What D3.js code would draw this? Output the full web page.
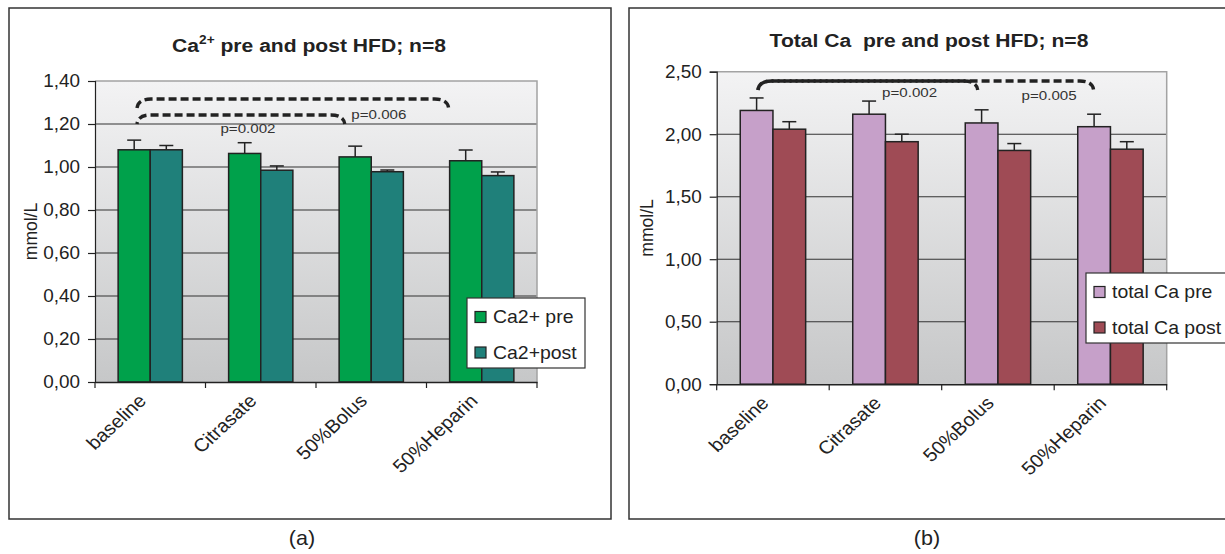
<!DOCTYPE html>
<html>
<head>
<meta charset="utf-8">
<script src="https://cdn.jsdelivr.net/npm/d3@7"></script>
<style>
  html,body{margin:0;padding:0;background:#fff;}
  svg{display:block;}
  text{font-family:"Liberation Sans", Arial, sans-serif; fill:#222; white-space:pre;}
</style>
</head>
<body>
<div id="chart"></div>
<script>
// ---------- DATA ----------
const categories = ["baseline", "Citrasate", "50%Bolus", "50%Heparin"];

// Panel (a): ionised Ca2+
const seriesA = ["Ca2+ pre", "Ca2+post"];
const ca2Pre      = [1.08, 1.063, 1.047, 1.029];
const ca2PreErr   = [0.045, 0.05, 0.05, 0.05];
const ca2Post     = [1.08, 0.985, 0.978, 0.96];
const ca2PostErr  = [0.02, 0.02, 0.008, 0.017];
const ticksA      = [0, 0.2, 0.4, 0.6, 0.8, 1.0, 1.2, 1.4];

// Panel (b): total Ca
const seriesB = ["total Ca pre", "total Ca post"];
const totPre      = [2.19, 2.16, 2.09, 2.06];
const totPreErr   = [0.10, 0.105, 0.105, 0.10];
const totPost     = [2.04, 1.94, 1.87, 1.88];
const totPostErr  = [0.06, 0.06, 0.055, 0.06];
const ticksB      = [0, 0.5, 1.0, 1.5, 2.0, 2.5];

// significance brackets (category from/to, bracket level in mmol/L, p text)
const bracketsA = [
  {from: "baseline", to: "50%Heparin", level: 1.316},
  {from: "baseline", to: "50%Bolus",   level: 1.242}
];
const pLabelsA = [
  {text: "p=0.002", cat: "Citrasate", value: 1.158},
  {text: "p=0.006", cat: "50%Bolus",  value: 1.223}
];
const bracketsB = [
  {from: "baseline", to: "50%Heparin", level: 2.426},
  {from: "baseline", to: "50%Bolus",   level: 2.426}
];
const pLabelsB = [
  {text: "p=0.002", cat: "Citrasate", value: 2.298},
  {text: "p=0.005", cat: "50%Bolus",  value: 2.274}
];

// ---------- LAYOUT ----------
const W = 1225, H = 554;
const FONT = '"Liberation Sans", Arial, sans-serif';
const SX = 1.08; // horizontal stretch of the reference's text

const panels = [
  {
    id: "a",
    border: {x: 9, y: 8, w: 602, h: 511},
    plot: {l: 95, r: 537, t: 81, b: 382},
    yMax: 1.4, ticks: ticksA, fmt: ".2f",
    title: {x: 309, y: 52, parts: [["Ca", 0], ["2+", 1], [" pre and post HFD; n=8", 0]]},
    ylabX: 37,
    colors: ["#00a14b", "#1f807a"],
    series: seriesA,
    values: [ca2Pre, ca2Post], errs: [ca2PreErr, ca2PostErr],
    legend: {x: 467, y: 298, w: 118, h: 70},
    brackets: bracketsA, bracketStart: 0.38, bracketEnd: {"50%Heparin": 0.2, "50%Bolus": 0.26},
    pLabels: pLabelsA, pFrac: {"Citrasate": 0.135, "50%Bolus": 0.32},
    caption: {x: 302, y: 545}
  },
  {
    id: "b",
    border: {x: 629, y: 8, w: 640, h: 511},
    plot: {l: 716.7, r: 1166.7, t: 71.7, b: 384.2},
    yMax: 2.5, ticks: ticksB, fmt: ".2f",
    title: {x: 929, y: 47, parts: [["Total Ca  pre and post HFD; n=8", 0]]},
    ylabX: 653,
    colors: ["#c6a0c9", "#9f4b55"],
    series: seriesB,
    values: [totPre, totPost], errs: [totPreErr, totPostErr],
    legend: {x: 1086, y: 273, w: 160, h: 70},
    brackets: bracketsB, bracketStart: 0.367, bracketEnd: {"50%Heparin": 0.35, "50%Bolus": 0.32},
    pLabels: pLabelsB, pFrac: {"Citrasate": 0.47, "50%Bolus": 0.71},
    caption: {x: 927, y: 545}
  }
];

const svg = d3.select("#chart").append("svg")
  .attr("width", W).attr("height", H)
  .attr("viewBox", `0 0 ${W} ${H}`);
svg.append("rect").attr("width", W).attr("height", H).attr("fill", "#fff");

const defs = svg.append("defs");
const grad = defs.append("linearGradient").attr("id", "plotbg")
  .attr("x1", 0).attr("y1", 0).attr("x2", 0).attr("y2", 1);
grad.append("stop").attr("offset", "0%").attr("stop-color", "#f3f3f4");
grad.append("stop").attr("offset", "100%").attr("stop-color", "#c6c7c8");

function stretchedText(g, x, y, str, opts = {}) {
  const t = g.append("text")
    .attr("transform", `translate(${x},${y}) scale(${opts.sx || SX},1)` + (opts.rot ? ` rotate(${opts.rot})` : ""))
    .attr("font-size", opts.size || 17)
    .attr("text-anchor", opts.anchor || "start")
    .attr("font-weight", opts.weight || "normal")
    .style("font-family", FONT);
  if (opts.dy) t.attr("dy", opts.dy);
  if (opts.fill) t.style("fill", opts.fill);
  t.text(str);
  return t;
}

const commaFmt = f => v => d3.format(f)(v).replace(".", ",");

panels.forEach(p => {
  const g = svg.append("g").attr("class", "panel-" + p.id);
  const P = p.plot;

  // outer frame
  g.append("rect")
    .attr("x", p.border.x).attr("y", p.border.y)
    .attr("width", p.border.w).attr("height", p.border.h)
    .attr("fill", "none").attr("stroke", "#333").attr("stroke-width", 1.5);

  // scales
  const x0 = d3.scaleBand().domain(categories).range([P.l, P.r]).padding(0);
  const x1 = d3.scaleBand().domain([0, 1]).range([0, x0.bandwidth()])
    .paddingInner(0).paddingOuter(0.72);
  const y = d3.scaleLinear().domain([0, p.yMax]).range([P.b, P.t]);

  // plot background
  g.append("rect")
    .attr("x", P.l).attr("y", P.t)
    .attr("width", P.r - P.l).attr("height", P.b - P.t)
    .attr("fill", "url(#plotbg)");

  // gridlines
  g.append("g").selectAll("line")
    .data(p.ticks.filter(t => t > 0 && t < p.yMax))
    .join("line")
    .attr("x1", P.l).attr("x2", P.r)
    .attr("y1", d => y(d)).attr("y2", d => y(d))
    .attr("stroke", "#333").attr("stroke-width", 1.1);

  // top & right border of plot area
  g.append("path")
    .attr("d", `M${P.l},${y(p.yMax)}H${P.r}V${P.b}`)
    .attr("fill", "none").attr("stroke", "#a3a3a3").attr("stroke-width", 1.5);

  // bars
  const barData = [];
  categories.forEach((c, i) => {
    p.values.forEach((vals, s) => {
      barData.push({cat: c, s, v: vals[i], e: p.errs[s][i]});
    });
  });

  // error bars (upper part only)
  const eg = g.append("g").attr("stroke", "#222").attr("stroke-width", 1.5);
  barData.forEach(d => {
    const cx = x0(d.cat) + x1(d.s) + x1.bandwidth() / 2;
    eg.append("line").attr("x1", cx).attr("x2", cx)
      .attr("y1", y(d.v)).attr("y2", y(d.v + d.e));
    eg.append("line").attr("x1", cx - 7).attr("x2", cx + 7)
      .attr("y1", y(d.v + d.e)).attr("y2", y(d.v + d.e));
  });

  g.append("g").selectAll("rect")
    .data(barData)
    .join("rect")
    .attr("x", d => x0(d.cat) + x1(d.s))
    .attr("y", d => y(d.v))
    .attr("width", x1.bandwidth())
    .attr("height", d => y(0) - y(d.v))
    .attr("fill", d => p.colors[d.s])
    .attr("stroke", "#222").attr("stroke-width", 1.5);

  // y axis
  const yAxis = d3.axisLeft(y).tickValues(p.ticks).tickFormat(commaFmt(p.fmt))
    .tickSize(7).tickPadding(8);
  const yg = g.append("g").attr("transform", `translate(${P.l},0)`).call(yAxis);
  yg.select(".domain").attr("stroke", "#222").attr("stroke-width", 1.2);
  yg.selectAll(".tick line").attr("stroke", "#222").attr("stroke-width", 1.2);
  yg.selectAll(".tick text").remove();
  p.ticks.forEach(t => {
    stretchedText(g, P.l - 15, y(t), commaFmt(p.fmt)(t),
      {anchor: "end", size: 17.5, dy: "0.36em"});
  });

  // x axis
  const xAxis = d3.axisBottom(x0).tickSize(0).tickFormat("");
  const xg = g.append("g").attr("transform", `translate(0,${P.b})`).call(xAxis);
  xg.select(".domain").attr("stroke", "#222").attr("stroke-width", 1.5);
  xg.selectAll(".tick").remove();
  const bounds = categories.map(c => x0(c)).concat([P.r]);
  g.append("g").selectAll("line").data(bounds).join("line")
    .attr("x1", d => d).attr("x2", d => d)
    .attr("y1", P.b).attr("y2", P.b + 6)
    .attr("stroke", "#222").attr("stroke-width", 1.2);

  categories.forEach(c => {
    stretchedText(g, x0(c) + x0.bandwidth() / 2 - 3, P.b + 20, c,
      {anchor: "end", size: 18.5, rot: -45});
  });

  // y label
  stretchedText(g, p.ylabX, (P.t + P.b) / 2, "mmol/L",
    {anchor: "middle", size: 17.5, rot: -90, sx: 1});

  // title
  const tt = g.append("text")
    .attr("transform", `translate(${p.title.x},${p.title.y}) scale(1.14,1)`)
    .attr("text-anchor", "middle")
    .attr("font-size", 18.5).attr("font-weight", "bold")
    .attr("xml:space", "preserve")
    .style("font-family", FONT);
  let prevSup = 0;
  p.title.parts.forEach(([s, sup]) => {
    const ts = tt.append("tspan").text(s);
    if (sup) { ts.attr("font-size", 12).attr("dy", -8); }
    else if (prevSup) { ts.attr("dy", 8); }
    prevSup = sup;
  });

  // significance brackets
  p.brackets.forEach((b, bi) => {
    const xs = x0(b.from) + x0.bandwidth() * p.bracketStart;
    const xe = x0(b.to) + x0.bandwidth() * p.bracketEnd[b.to];
    const yl = y(b.level);
    const path = `M${xs},${yl + 9} Q${xs + 1},${yl} ${xs + 14},${yl} L${xe - 14},${yl} Q${xe - 1},${yl} ${xe},${yl + 9}`;
    g.append("path").attr("d", path)
      .attr("fill", "none").attr("stroke", "#222")
      .attr("stroke-width", 3.4).attr("stroke-dasharray", "8 4")
      .attr("stroke-dashoffset", bi * 6);
  });
  p.pLabels.forEach(l => {
    stretchedText(g, x0(l.cat) + x0.bandwidth() * p.pFrac[l.cat], y(l.value), l.text,
      {size: 13.5, sx: 1.12, fill: "#333"});
  });

  // legend
  const L = p.legend;
  const lg = g.append("g");
  lg.append("rect").attr("x", L.x).attr("y", L.y).attr("width", L.w).attr("height", L.h)
    .attr("fill", "#fff").attr("stroke", "#333").attr("stroke-width", 1.2);
  p.series.forEach((s, i) => {
    const cy = L.y + 19 + i * 35.5;
    lg.append("rect").attr("x", L.x + 8).attr("y", cy - 5.5)
      .attr("width", 11).attr("height", 11)
      .attr("fill", p.colors[i]).attr("stroke", "#222").attr("stroke-width", 1.2);
    stretchedText(lg, L.x + 26, cy, s, {size: 18, dy: "0.35em", sx: 1.08});
  });

  // caption (a)/(b)
  stretchedText(svg, p.caption.x, p.caption.y, `(${p.id})`,
    {anchor: "middle", size: 20.5, sx: 1.05});
});
</script>
</body>
</html>
